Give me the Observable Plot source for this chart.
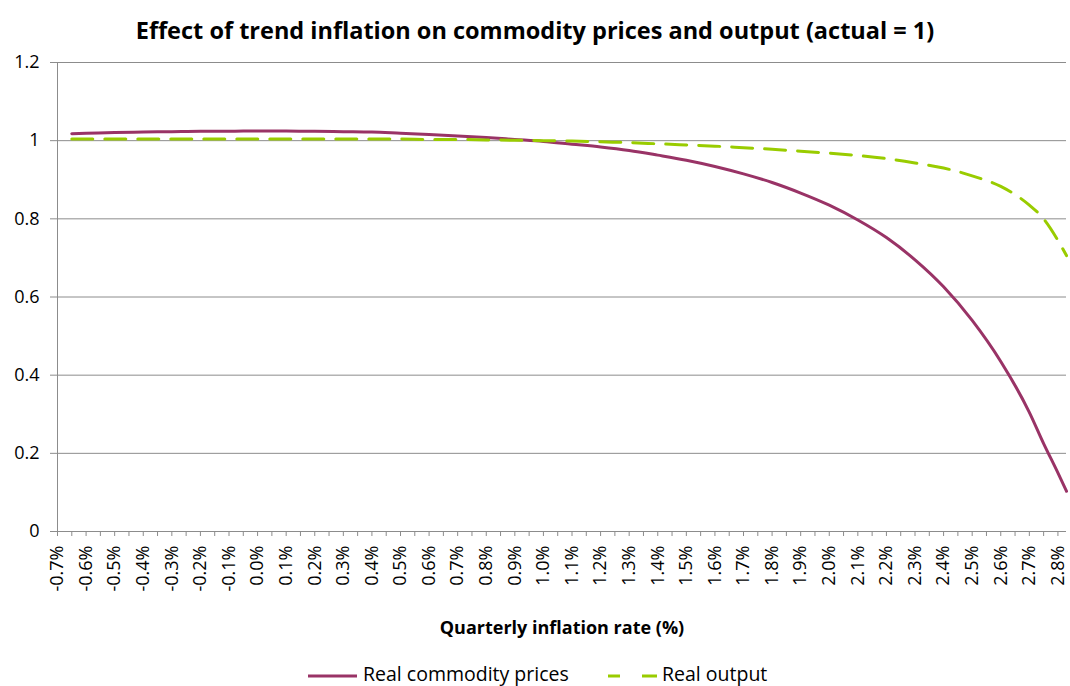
<!DOCTYPE html>
<html><head><meta charset="utf-8">
<script src="https://cdn.jsdelivr.net/npm/d3@7"></script>
<script src="https://cdn.jsdelivr.net/npm/@observablehq/plot@0.6"></script>
<style>
body{margin:0;background:#fff;font-family:"Open Sans",sans-serif;}
#wrap{position:relative;width:1070px;height:686px;overflow:hidden;background:#fff}
#title{position:absolute;top:15px;left:0;width:1070px;text-align:center;font-weight:bold;font-size:23.5px;color:#000;line-height:30px}
#chart{position:absolute;top:50px;left:0}
#legend{position:absolute;top:660px;left:0;width:1070px;height:26px}
#legend span{position:absolute;top:2px;font-size:19.5px;color:#000;white-space:nowrap;line-height:24px}
#legend svg{position:absolute;top:0;left:0}
</style>
</head><body>
<div id="wrap">
  <div id="title">Effect of trend inflation on commodity prices and output (actual = 1)</div>
  <div id="chart"></div>
  <div id="legend">
    <svg width="1070" height="26">
      <line x1="308" x2="357" y1="16" y2="16" stroke="#993366" stroke-width="3"/>
      <line x1="608" x2="657" y1="16" y2="16" stroke="#99CC00" stroke-width="3" stroke-dasharray="12,22,15"/>
    </svg>
    <span style="left:363px">Real commodity prices</span>
    <span style="left:662px">Real output</span>
  </div>
</div>
<script>
// Quarterly inflation rate (%) at which the model is evaluated
const inflation = [-0.65,-0.6,-0.5,-0.4,-0.3,-0.2,-0.1,0.0,0.1,0.2,0.3,0.4,0.5,0.6,0.7,0.8,0.9,1.0,1.1,1.2,1.3,1.4,1.5,1.6,1.7,1.8,1.9,2.0,2.1,2.2,2.3,2.4,2.5,2.6,2.7,2.75,2.8,2.83];
// Real commodity prices (actual = 1)
const commodity = [1.018,1.019,1.021,1.022,1.023,1.024,1.024,1.025,1.025,1.024,1.023,1.022,1.019,1.016,1.012,1.008,1.003,0.998,0.991,0.984,0.975,0.963,0.950,0.934,0.915,0.893,0.866,0.835,0.797,0.752,0.695,0.626,0.540,0.435,0.305,0.225,0.150,0.103];
// Real output (actual = 1)
const output = [1.004,1.004,1.004,1.004,1.004,1.004,1.004,1.004,1.004,1.004,1.004,1.004,1.004,1.003,1.003,1.002,1.001,1.000,0.999,0.997,0.995,0.992,0.989,0.986,0.982,0.978,0.973,0.968,0.962,0.954,0.943,0.930,0.910,0.883,0.835,0.800,0.745,0.706];
// Axis ticks
const xLabelTicks = d3.range(-7, 29).map(i => i / 10);
const xMinorTicks = d3.range(-14, 58).map(i => i / 20);
const yTicks = [0, 0.2, 0.4, 0.6, 0.8, 1, 1.2];

const commodityData = inflation.map((x, i) => ({x, y: commodity[i]}));
const outputData = inflation.map((x, i) => ({x, y: output[i]}));

const chart = Plot.plot({
  width: 1070,
  height: 600,
  marginLeft: 57,
  marginRight: 4,
  marginTop: 12,
  marginBottom: 119,
  style: {fontFamily: "'Open Sans', sans-serif", background: "#fff", color: "#000"},
  x: {type: "linear", domain: [-0.7, 2.83]},
  y: {domain: [0, 1.2]},
  marks: [
    Plot.ruleY(yTicks, {stroke: "#8c8c8c", strokeWidth: 1}),
    Plot.ruleX([-0.7], {stroke: "#8c8c8c", strokeWidth: 1}),
    Plot.axisY({ticks: yTicks, tickFormat: d => String(+d.toFixed(1)), tickSize: 7, tickPadding: 11, fontSize: 18, stroke: "#8c8c8c", fill: "#000", label: null}),
    Plot.axisX({ticks: xMinorTicks, tickFormat: () => "", tickSize: 5, stroke: "#8c8c8c", label: null}),
    Plot.axisX({ticks: xLabelTicks, tickFormat: d => d.toFixed(1) + "%", tickSize: 0, tickPadding: 14, tickRotate: -90, fontSize: 18, fill: "#000", label: null}),
    Plot.line(commodityData, {x: "x", y: "y", stroke: "#993366", strokeWidth: 3, curve: "monotone-x"}),
    Plot.line(outputData, {x: "x", y: "y", stroke: "#99CC00", strokeWidth: 3, strokeDasharray: "21,12", curve: "monotone-x"}),
    Plot.text(["Quarterly inflation rate (%)"], {frameAnchor: "bottom", dy: 102, text: d => d, fontWeight: "bold", fontSize: 18, fill: "#000"})
  ]
});
document.getElementById("chart").appendChild(chart);
</script>
</body></html>
